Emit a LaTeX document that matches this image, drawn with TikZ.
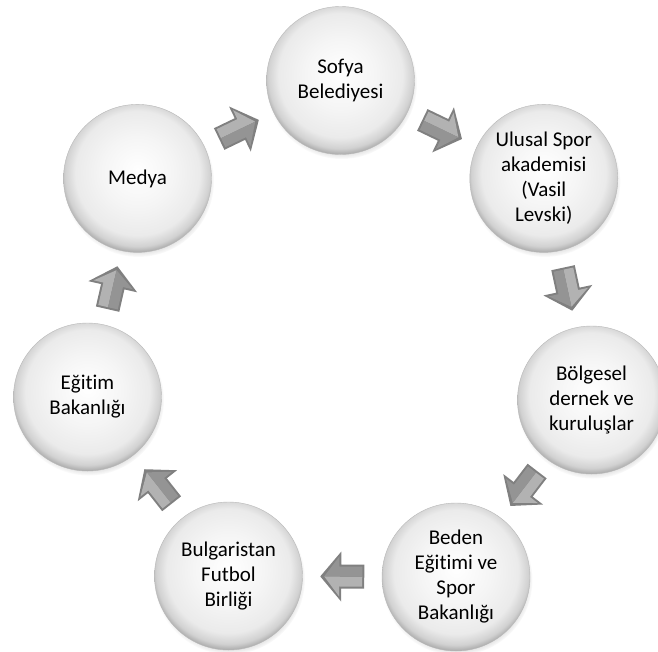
\documentclass[tikz,border=0pt]{standalone}
\usepackage{fontspec}
\setmainfont{Carlito}[Ligatures=NoCommon]
\usetikzlibrary{shadows}
\pgfdeclareradialshading{bubbleshade}{\pgfpoint{0bp}{3bp}}{color(0bp)=(white); color(12bp)=(white!96!black); color(21bp)=(white!92!black); color(24.5bp)=(white!82!black); color(27bp)=(white!62!black); color(50bp)=(white!62!black)}
\tikzset{
  bubble/.style={circle, minimum size=148pt, inner sep=0pt, shading=bubbleshade,
    draw=white!72!black, line width=0.4pt,
    circular drop shadow={shadow xshift=1pt, shadow yshift=-3pt, opacity=0.35, fill=black!60, shadow scale=1.02},
    align=center, font=\fontsize{21}{25}\selectfont},
  pics/blockarrow/.style={code={
    \fill[black!50] (-22,-12) -- (1,-12) -- (1,-25) -- (22,0) -- (1,25) -- (1,12) -- (-22,12) -- cycle;
    \fill[black!30] (-20,-10) -- (3,-10) -- (3,-20) -- (18,0) -- (-20,0) -- cycle;
    \fill[black!42] (-20,10) -- (3,10) -- (3,20) -- (18,0) -- (-20,0) -- cycle;
  }}
}
\begin{document}
\begin{tikzpicture}[x=1pt,y=-1pt]
\useasboundingbox[fill=white] (0,0) rectangle (658,651);
\node[bubble] (sofya) at (340.5,80.5) {Sofya\\Belediyesi};
\node[bubble] (ulusal) at (543.8,178.4) {Ulusal Spor\\akademisi\\(Vasil\\Levski)};
\node[bubble] (bolge) at (591.5,400) {Bölgesel\\dernek ve\\kuruluşlar};
\node[bubble] (beden) at (456,577) {Beden\\Eğitimi ve\\Spor\\Bakanlığı};
\node[bubble] (bfb) at (228.5,576) {Bulgaristan\\Futbol\\Birliği};
\node[bubble] (egitim) at (87.5,397) {Eğitim\\Bakanlığı};
\node[bubble] (medya) at (137.5,178.4) {Medya};
\path (sofya) -- (ulusal) pic[midway, sloped, allow upside down] {blockarrow};
\path (ulusal) -- (bolge) pic[midway, sloped, allow upside down] {blockarrow};
\path (bolge) -- (beden) pic[midway, sloped, allow upside down] {blockarrow};
\path (beden) -- (bfb) pic[midway, sloped, allow upside down] {blockarrow};
\path (bfb) -- (egitim) pic[midway, sloped, allow upside down] {blockarrow};
\path (egitim) -- (medya) pic[midway, sloped, allow upside down] {blockarrow};
\path (medya) -- (sofya) pic[midway, sloped, allow upside down] {blockarrow};
\end{tikzpicture}
\end{document}
